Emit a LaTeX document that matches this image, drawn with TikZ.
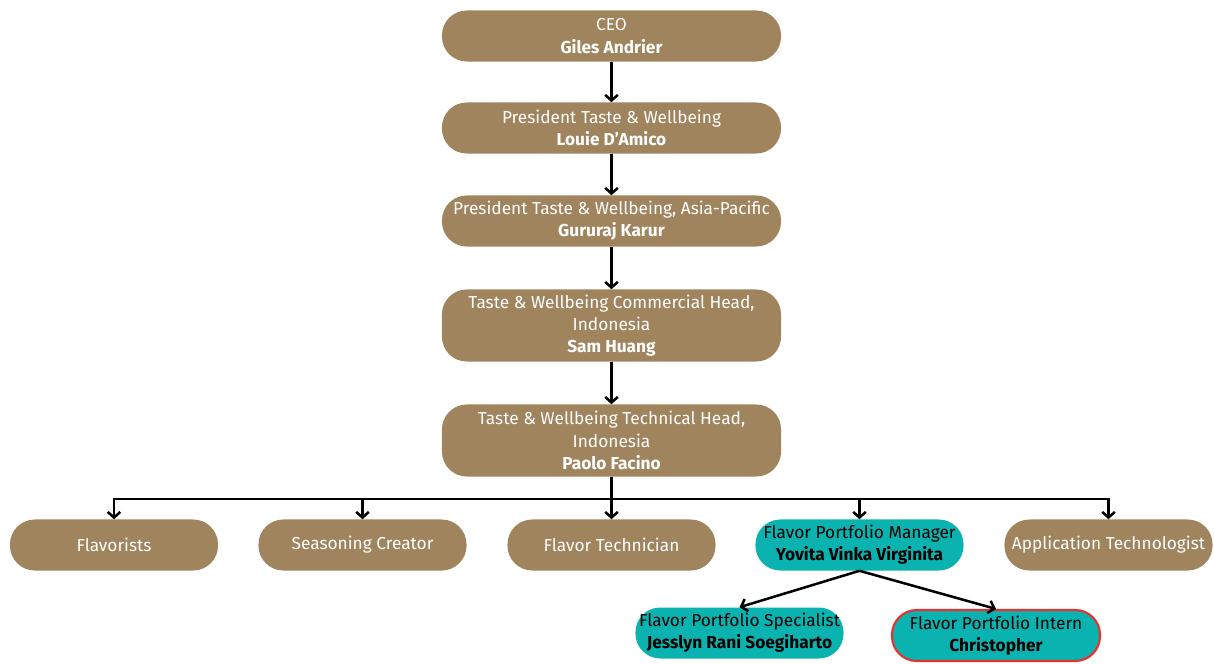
\documentclass[tikz,border=0pt]{standalone}
\usepackage{fontspec}
\setmainfont{Fira Sans}
\usetikzlibrary{arrows.meta,positioning}
\definecolor{rolebrown}{HTML}{A0845E}
\definecolor{roleteal}{HTML}{0AB3AF}
\definecolor{internred}{HTML}{E8312F}

\begin{document}
\begin{tikzpicture}[x=0.025cm,y=-0.025cm,
            box/.style={rectangle,rounded corners=0.62cm,minimum width=8.475cm,minimum height=1.275cm,align=center,inner sep=0pt,font=\fontsize{12.3}{15.8}\selectfont},
            head/.style={box,fill=rolebrown,text=white},
            tall/.style={minimum height=1.8cm},
            unit/.style={minimum width=5.2cm},
            team/.style={box,unit,fill=roleteal,text=black},
            link/.style={draw,line width=1.8pt,-{Straight Barb[length=4pt,width=9pt]}}
          ]
          \useasboundingbox (0,0) rectangle (1214,663);

          %management chain
          \node[head] (ceo) at (611.5,36) {CEO\\\textbf{Giles Andrier}};
          \node[head] (pres) at (611.5,128) {President Taste \& Wellbeing\\\textbf{Louie D’Amico}};
          \node[head] (apac) at (611.5,221) {President Taste \& Wellbeing, Asia-Pacific\\\textbf{Gururaj Karur}};
          \node[head,tall] (comm) at (611.5,325.5) {Taste \& Wellbeing Commercial Head,\\Indonesia\\\textbf{Sam Huang}};
          \node[head,tall] (tech) at (611.5,440.5) {Taste \& Wellbeing Technical Head,\\Indonesia\\\textbf{Paolo Facino}};

          %teams
          \node[head,unit] (flav) at (114,545) {Flavorists};
          \node[head,unit] (seas) at (362.5,545) {Seasoning Creator};
          \node[head,unit] (ftec) at (611.5,545) {Flavor Technician};
          \node[team] (mgr) at (859.5,545) {Flavor Portfolio Manager\\\textbf{Yovita Vinka Virginita}};
          \node[head,unit] (appl) at (1108.5,545) {Application Technologist};

          %portfolio team
          \node[team] (spec) at (739.5,633) {Flavor Portfolio Specialist\\\textbf{Jesslyn Rani Soegiharto}};
          \node[team,draw=internred,line width=1.5pt] (intern) at (996,635.5) {Flavor Portfolio Intern\\\textbf{Christopher}};

          \coordinate (bus) at (611.5,499);

          \path[link] (ceo) -- (pres);
          \path[link] (pres) -- (apac);
          \path[link] (apac) -- (comm);
          \path[link] (comm) -- (tech);
          \path[link] (tech) -- (ftec);
          \path[link] (bus) -| (flav);
          \path[link] (bus) -| (appl);
          \path[link] (bus -| seas) -- (seas);
          \path[link] (bus -| mgr) -- (mgr);
          \path[link] (mgr.south) -- (spec.north);
          \path[link] (mgr.south) -- (intern.north);

      \end{tikzpicture}
\end{document}
